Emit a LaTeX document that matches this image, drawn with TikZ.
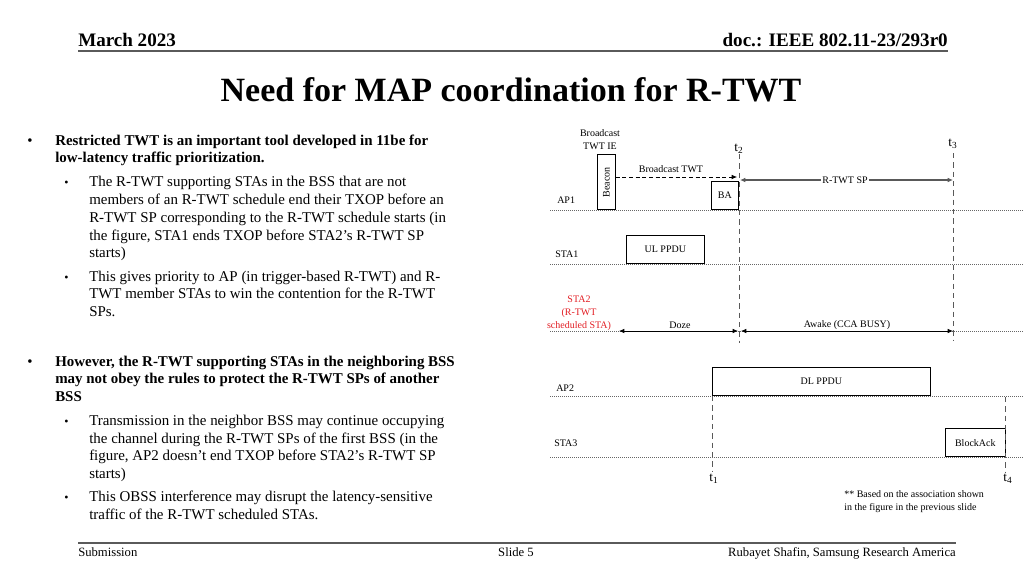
\documentclass[tikz,border=0pt]{standalone}
\usepackage{fontspec}
\setmainfont{Liberation Serif}
\usetikzlibrary{arrows.meta}
\definecolor{stared}{RGB}{226,30,36}
\definecolor{rulegray}{RGB}{90,90,90}
\begin{document}
\begin{tikzpicture}[x=0.75pt,y=-0.75pt,
  hdr/.style={font=\fontsize{14.3}{16}\selectfont\bfseries, inner sep=0},
  ftr/.style={font=\fontsize{9.5}{11}\selectfont, inner sep=0},
  bodyb/.style={font=\fontsize{11.2}{13.4}\selectfont\bfseries, inner sep=0, anchor=base west},
  body/.style={font=\fontsize{11.2}{13.4}\selectfont, inner sep=0, anchor=base west},
  lab/.style={font=\fontsize{7.5}{9.75}\selectfont, inner sep=0},
  tlab/.style={font=\fontsize{10}{12}\selectfont, inner sep=0},
  pbox/.style={draw, line width=0.5pt, fill=white, inner sep=0, anchor=south west},
  tline/.style={draw=gray!80!black, line width=0.5pt, dash pattern=on 0.6pt off 0.9pt},
  vdash/.style={draw=gray!70!black, line width=0.5pt, dash pattern=on 4pt off 3pt},
  hrule/.style={draw=rulegray, line width=1.5pt},
  dbl/.style={line width=0.6pt, {Latex[length=4pt,width=3.5pt]}-{Latex[length=4pt,width=3.5pt]}}
]
\useasboundingbox (0,0) rectangle (1024,576);

% header
\node[hdr, anchor=base west] (date) at (78,46) {March 2023};
\node[hdr, anchor=base east] (doc) at (948,46) {doc.: IEEE 802.11-23/293r0};
\coordinate (hl) at (78,51); \coordinate (hr) at (948,51);
\draw[hrule] (hl) -- (hr);

% title
\node[font=\fontsize{25.5}{28}\selectfont\bfseries, inner sep=0, anchor=base] (title) at (511,101) {Need for MAP coordination for R-TWT};

% footer
\coordinate (fl) at (78,543); \coordinate (fr) at (956,543);
\draw[hrule] (fl) -- (fr);
\node[ftr, anchor=base west] (sub) at (78,556) {Submission};
\node[ftr, anchor=base] (slide) at (516,556) {Slide 5};
\node[ftr, anchor=base east] (auth) at (956,556) {Rubayet Shafin, Samsung Research America};

% left text
\node[body] (b1) at (27,145) {•};
\node[bodyb] (l1) at (55,145) {Restricted TWT is an important tool developed in 11be for};
\node[bodyb] (l2) at (55,162.7) {low-latency traffic prioritization.};
\node[body, font=\fontsize{9}{11}\selectfont] (s1) at (64,186.7) {•};
\node[body] (l3) at (89,186.7) {The R-TWT supporting STAs in the BSS that are not};
\node[body] (l4) at (89,204.4) {members of an R-TWT schedule end their TXOP before an};
\node[body] (l5) at (89,222.2) {R-TWT SP corresponding to the R-TWT schedule starts (in};
\node[body] (l6) at (89,240) {the figure, STA1 ends TXOP before STA2’s R-TWT SP};
\node[body] (l7) at (89,257.7) {starts)};
\node[body, font=\fontsize{9}{11}\selectfont] (s2) at (64,281) {•};
\node[body] (l8) at (89,281) {This gives priority to AP (in trigger-based R-TWT) and R-};
\node[body] (l9) at (89,298.8) {TWT member STAs to win the contention for the R-TWT};
\node[body] (l10) at (89,316.6) {SPs.};
\node[body] (b2) at (27,366) {•};
\node[bodyb] (l11) at (55,366) {However, the R-TWT supporting STAs in the neighboring BSS};
\node[bodyb] (l12) at (55,383.8) {may not obey the rules to protect the R-TWT SPs of another};
\node[bodyb] (l13) at (55,401.6) {BSS};
\node[body, font=\fontsize{9}{11}\selectfont] (s3) at (64,425.3) {•};
\node[body] (l14) at (89,425.3) {Transmission in the neighbor BSS may continue occupying};
\node[body] (l15) at (89,443.1) {the channel during the R-TWT SPs of the first BSS (in the};
\node[body] (l16) at (89,460.9) {figure, AP2 doesn’t end TXOP before STA2’s R-TWT SP};
\node[body] (l17) at (89,478.7) {starts)};
\node[body, font=\fontsize{9}{11}\selectfont] (s4) at (64,501.7) {•};
\node[body] (l18) at (89,501.7) {This OBSS interference may disrupt the latency-sensitive};
\node[body] (l19) at (89,519.4) {traffic of the R-TWT scheduled STAs.};

% timelines
\coordinate (ap1L) at (550,210); \coordinate (ap1R) at (1024,210);
\coordinate (sta1L) at (550,264); \coordinate (sta1R) at (1024,264);
\coordinate (sta2L) at (550,331); \coordinate (sta2R) at (1024,331);
\coordinate (ap2L) at (550,396); \coordinate (ap2R) at (1024,396);
\coordinate (sta3L) at (550,457); \coordinate (sta3R) at (1024,457);
\draw[tline] (ap1L) -- (ap1R);
\draw[tline] (sta1L) -- (sta1R);
\draw[tline] (sta2L) -- (sta2R);
\draw[tline] (ap2L) -- (ap2R);
\draw[tline] (sta3L) -- (sta3R);

% row labels
\node[lab, anchor=base west] (lap1) at (557,203.5) {AP1};
\node[lab, anchor=base west] (lsta1) at (555,257.5) {STA1};
\node[lab, anchor=base west] (lap2) at (556,391.5) {AP2};
\node[lab, anchor=base west] (lsta3) at (554,446.5) {STA3};
\node[lab, text=stared, align=center] (lsta2) at (579,313) {STA2\\(R-TWT\\scheduled STA)};
\node[lab, align=center] (bie) at (600,139.5) {Broadcast\\TWT IE};

% vertical time markers
\coordinate (t2top) at (739,154); \coordinate (t2bot) at (739,343);
\coordinate (t3top) at (953,153); \coordinate (t3bot) at (953,341);
\coordinate (t1top) at (712,396); \coordinate (t1bot) at (712,472);
\coordinate (t4top) at (1005,397); \coordinate (t4bot) at (1005,472);

% boxes
\node[pbox, minimum width=13.5pt, minimum height=41.25pt] (beacon) at (597,210) {};
\node[lab, rotate=90] (beacontxt) at (beacon.center) {Beacon};
\node[pbox, minimum width=20.25pt, minimum height=21pt] (ba) at (711,210) {};
\node[lab] (batxt) at (ba.center) {BA};
\node[pbox, minimum width=58.5pt, minimum height=21pt] (ul) at (626,264) {};
\node[lab] (ultxt) at (ul.center) {UL PPDU};
\node[pbox, minimum width=163.5pt, minimum height=21pt] (dl) at (712,396) {};
\node[lab] (dltxt) at (dl.center) {DL PPDU};
\node[pbox, minimum width=45pt, minimum height=21pt] (back) at (945,457) {};
\node[lab] (backtxt) at (back.center) {BlockAck};

\draw[vdash] (t2top) -- (t2bot);
\draw[vdash] (t3top) -- (t3bot);
\draw[vdash] (t1top) -- (t1bot);
\draw[vdash] (t4top) -- (t4bot);

\node[tlab] (t2) at (739,149) {t\textsubscript{2}};
\node[tlab] (t3) at (953,144) {t\textsubscript{3}};
\node[tlab] (t1) at (714,479) {t\textsubscript{1}};
\node[tlab] (t4) at (1008,479) {t\textsubscript{4}};

% arrows
\coordinate (btwtEnd) at (737,177);
\draw[line width=0.5pt, dash pattern=on 3pt off 2pt, -{Latex[length=4pt,width=3.5pt]}] (beacon.east |- btwtEnd) -- (btwtEnd);
\node[lab] (btwt) at (671,169) {Broadcast TWT};

\coordinate (spL) at (740,180); \coordinate (spR) at (953,180);
\draw[dbl, draw=gray!70!black, line width=1pt] (spL) -- (spR);
\node[lab, fill=white, inner sep=1pt] (sp) at (845,180) {R-TWT SP};

\coordinate (dozeL) at (619,331); \coordinate (dozeR) at (738,331);
\coordinate (awL) at (741,331); \coordinate (awR) at (953,331);
\draw[dbl] (dozeL) -- (dozeR);
\draw[dbl] (awL) -- (awR);
\node[lab] (doze) at (680,325) {Doze};
\node[lab] (awake) at (847,325) {Awake (CCA BUSY)};

% note
\node[lab, align=left, anchor=north west, font=\fontsize{7.5}{9.8}\selectfont] (note) at (844,490) {** Based on the association shown\\in the figure in the previous slide};
\end{tikzpicture}
\end{document}
